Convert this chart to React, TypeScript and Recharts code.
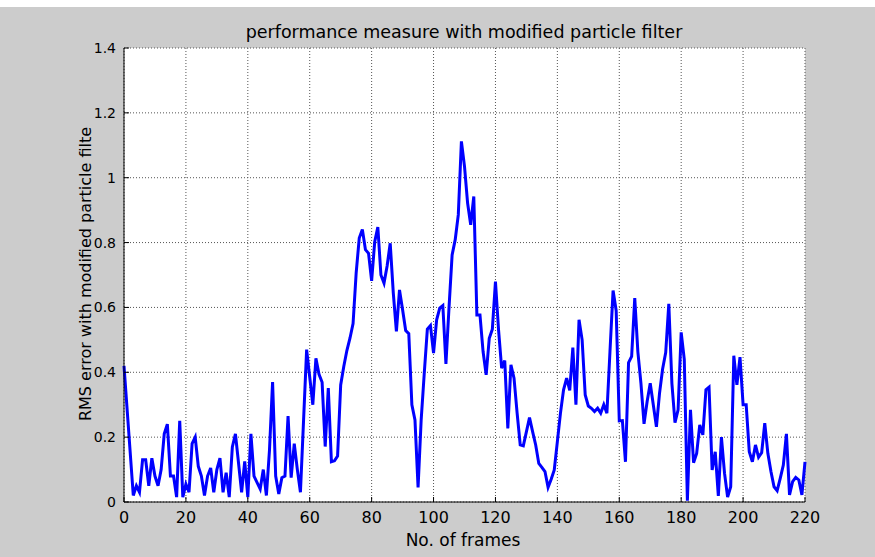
import React from 'react';
import { LineChart, Line, XAxis, YAxis, CartesianGrid } from 'recharts';

// frame numbers and RMS error
const frames = [
  0, 3, 4, 5, 6, 7, 8, 9, 10, 11, 12, 13, 14, 15, 16, 17, 18, 19, 20,
  21, 22, 23, 24, 25, 26, 27, 28, 29, 30, 31, 32, 33, 34, 35, 36, 38, 39, 40,
  41, 42, 43, 44, 45, 46, 47, 48, 49, 50, 51, 52, 53, 54, 55, 56, 57, 59,
  61, 62, 63, 64, 65, 66, 67, 68, 69, 70, 71, 72, 73, 74, 75, 76, 77, 78, 79, 80,
  81, 82, 83, 84, 85, 86, 87, 88, 89, 90, 91, 92, 93, 94, 95, 96, 97, 98, 99, 100,
  101, 102, 103, 104, 105, 106, 107, 108, 109, 110, 111, 112, 113, 114, 115, 116, 117, 118, 119, 120,
  121, 122, 123, 124, 125, 126, 127, 128, 129, 131, 132, 133, 134, 135, 136, 137, 138, 139, 140,
  141, 142, 143, 144, 145, 146, 147, 148, 149, 150, 151, 152, 153, 154, 155, 156, 157, 158, 159, 160,
  161, 162, 163, 164, 165, 166, 167, 168, 169, 170, 172, 173, 174, 175, 176, 177, 178, 179, 180,
  181, 182, 183, 184, 185, 186, 187, 188, 189, 190, 191, 192, 193, 194, 195, 196, 197, 198, 199, 200,
  201, 202, 203, 204, 205, 206, 207, 208, 209, 210, 211, 212, 213, 214, 215, 216, 217, 218, 219, 220,
];

const rmsError = [
  0.42, 0.02, 0.05, 0.03, 0.13, 0.13, 0.05, 0.135, 0.08, 0.05, 0.1, 0.21, 0.24, 0.08, 0.08, 0.015, 0.25, 0.015, 0.055,
  0.03, 0.18, 0.2, 0.11, 0.08, 0.02, 0.08, 0.105, 0.03, 0.1, 0.135, 0.03, 0.09, 0.015, 0.17, 0.21, 0.03, 0.125, 0.015,
  0.21, 0.08, 0.06, 0.04, 0.1, 0.02, 0.16, 0.37, 0.08, 0.025, 0.075, 0.08, 0.265, 0.075, 0.18, 0.1, 0.03, 0.47,
  0.3, 0.443, 0.394, 0.369, 0.171, 0.351, 0.124, 0.127, 0.142, 0.361, 0.418, 0.467, 0.505, 0.55, 0.706, 0.814, 0.84, 0.778, 0.767, 0.682,
  0.803, 0.848, 0.7, 0.675, 0.728, 0.798, 0.644, 0.526, 0.654, 0.593, 0.529, 0.519, 0.3, 0.253, 0.045, 0.253, 0.397, 0.533, 0.544, 0.459,
  0.562, 0.598, 0.606, 0.426, 0.6, 0.762, 0.809, 0.886, 1.112, 1.035, 0.922, 0.855, 0.942, 0.577, 0.577, 0.464, 0.392, 0.505, 0.533, 0.68,
  0.531, 0.413, 0.436, 0.227, 0.423, 0.382, 0.274, 0.176, 0.173, 0.26, 0.217, 0.176, 0.119, 0.107, 0.094, 0.045, 0.07, 0.099, 0.186,
  0.274, 0.346, 0.382, 0.344, 0.476, 0.3, 0.562, 0.5, 0.33, 0.296, 0.289, 0.279, 0.289, 0.274, 0.3, 0.274, 0.465, 0.652, 0.59, 0.25,
  0.251, 0.124, 0.43, 0.449, 0.629, 0.464, 0.366, 0.241, 0.31, 0.366, 0.232, 0.335, 0.41, 0.461, 0.611, 0.366, 0.245, 0.284, 0.523,
  0.44, 0.004, 0.284, 0.121, 0.15, 0.238, 0.207, 0.346, 0.354, 0.099, 0.155, 0.019, 0.2, 0.089, 0.015, 0.047, 0.451, 0.361, 0.447, 0.3,
  0.3, 0.155, 0.124, 0.176, 0.138, 0.152, 0.243, 0.15, 0.094, 0.047, 0.035, 0.073, 0.114, 0.21, 0.022, 0.063, 0.076, 0.068, 0.022, 0.124,
];

const xTicks = [0, 20, 40, 60, 80, 100, 120, 140, 160, 180, 200, 220];
const yTicks = [0, 0.2, 0.4, 0.6, 0.8, 1, 1.2, 1.4];

const title = 'performance measure with modified particle filter';
const xLabel = 'No. of frames';
const yLabel = 'RMS error with modified particle filte';

const data = frames.map((f, i) => ({ frame: f, rms: rmsError[i] }));

const font = '"DejaVu Sans", sans-serif';
const xTickStyle = { fontSize: 16, fill: '#000', fontFamily: font };
const yTickStyle = { fontSize: 14, fill: '#000', fontFamily: font };

export default function App() {
  return (
    <div style={{ position: 'absolute', left: 0, top: 0, width: 875, height: 557, background: '#fff' }}>
      <div style={{ position: 'absolute', left: 0, top: 7, width: 875, height: 550, background: '#cccccc' }} />
      <div style={{ position: 'absolute', left: 0, top: 0 }}>
        <LineChart
          width={875}
          height={557}
          data={data}
          margin={{ top: 48, right: 70, bottom: 25, left: 0 }}
        >
          <CartesianGrid stroke="#555" strokeDasharray="1 2" fill="#fff" />
          <XAxis
            dataKey="frame"
            type="number"
            domain={[0, 220]}
            ticks={xTicks}
            height={30}
            tickSize={-5}
            tickMargin={15}
            axisLine={{ stroke: '#000' }}
            tickLine={{ stroke: '#000' }}
            tick={xTickStyle}
            interval={0}
          />
          <XAxis
            xAxisId="top"
            orientation="top"
            dataKey="frame"
            type="number"
            domain={[0, 220]}
            ticks={xTicks}
            height={0}
            tickSize={-5}
            axisLine={{ stroke: '#000' }}
            tickLine={{ stroke: '#000' }}
            tick={false}
          />
          <YAxis
            type="number"
            domain={[0, 1.4]}
            ticks={yTicks}
            width={124}
            tickSize={-5}
            tickMargin={13}
            axisLine={{ stroke: '#000' }}
            tickLine={{ stroke: '#000' }}
            tick={yTickStyle}
            interval={0}
          />
          <YAxis
            yAxisId="right"
            orientation="right"
            type="number"
            domain={[0, 1.4]}
            ticks={yTicks}
            width={0}
            tickSize={-5}
            axisLine={{ stroke: '#000' }}
            tickLine={{ stroke: '#000' }}
            tick={false}
          />
          <Line
            type="linear"
            dataKey="rms"
            stroke="#0000ff"
            strokeWidth={3}
            dot={false}
            isAnimationActive={false}
          />
        </LineChart>
      </div>
      <div style={{ position: 'absolute', left: 0, width: 928, top: 22, textAlign: 'center', fontFamily: font, fontSize: 17.5, lineHeight: '20px' }}>
        {title}
      </div>
      <div style={{ position: 'absolute', left: 0, width: 926, top: 530, textAlign: 'center', fontFamily: font, fontSize: 17, lineHeight: '20px' }}>
        {xLabel}
      </div>
      <div
        style={{
          position: 'absolute',
          left: 86,
          top: 274,
          transform: 'translate(-50%, -50%) rotate(-90deg)',
          whiteSpace: 'nowrap',
          fontFamily: font,
          fontSize: 16,
          lineHeight: '20px',
        }}
      >
        {yLabel}
      </div>
    </div>
  );
}
